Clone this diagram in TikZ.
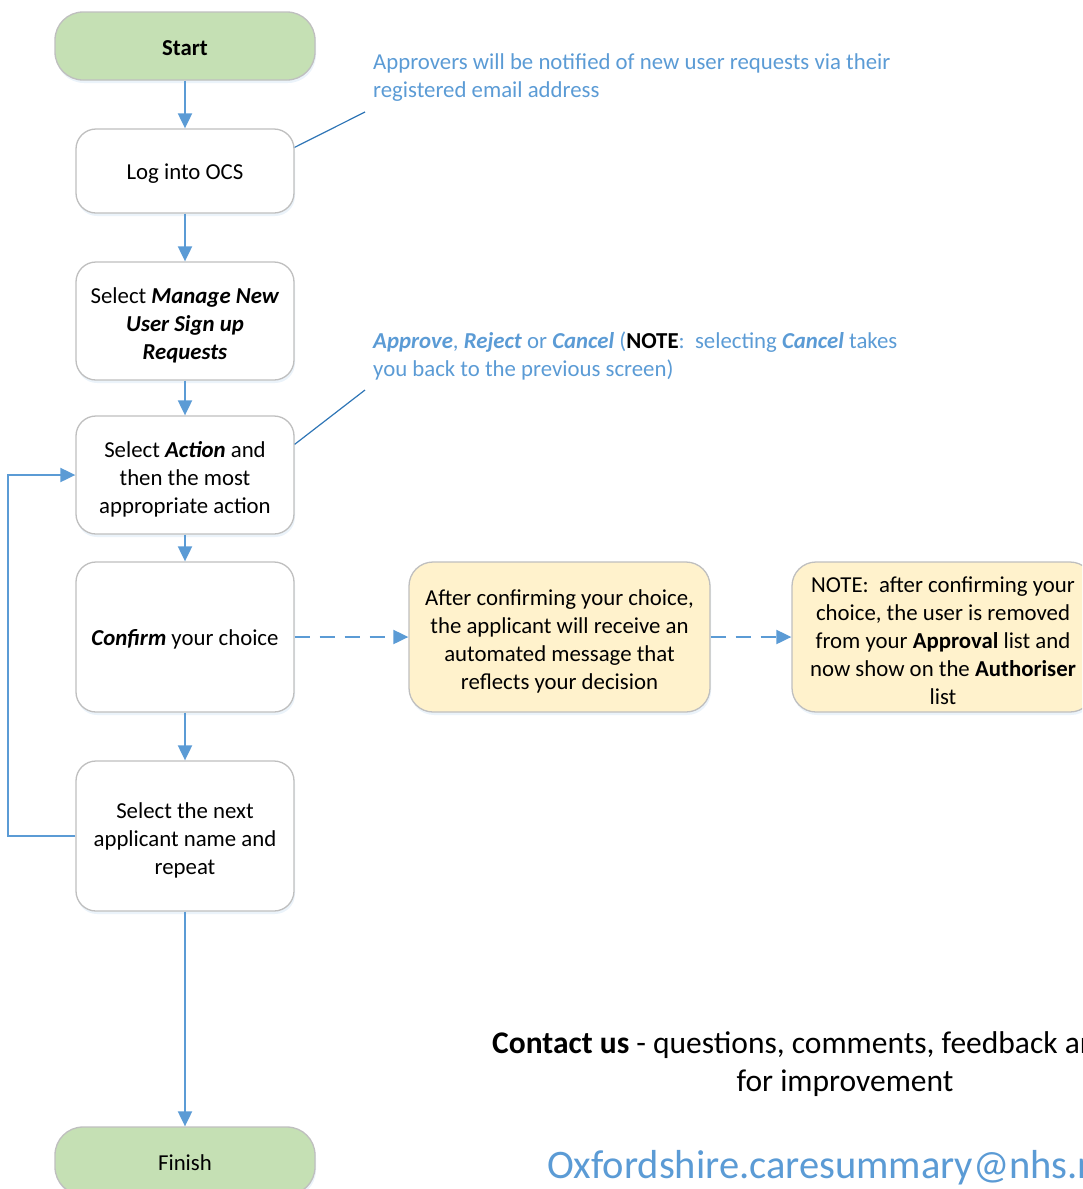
\documentclass[tikz,border=0pt]{standalone}
\usepackage{fontspec}
\setmainfont{Carlito}
\usetikzlibrary{arrows.meta,shadows,calc}
\definecolor{lineblue}{HTML}{5B9BD5}
\definecolor{annoline}{HTML}{2E75B6}
\definecolor{boxgray}{HTML}{BFBFBF}
\definecolor{startgreen}{HTML}{C5E0B4}
\definecolor{noteyellow}{HTML}{FFF2CC}
\newcommand{\toprule}[1]{\rule{0pt}{#1}}
\tikzset{
  basebox/.style={draw=boxgray, line width=1.3pt, align=center, inner sep=2pt,
    font=\fontsize{22.8}{28}\selectfont,
    drop shadow={shadow xshift=1pt, shadow yshift=-3pt, fill=lineblue, opacity=0.12}},
  terminal/.style={basebox, fill=startgreen, rounded corners=28pt, minimum width=260pt, minimum height=68pt},
  procbox/.style={basebox, fill=white, rounded corners=20pt, minimum width=218pt},
  notebox/.style={basebox, fill=noteyellow, rounded corners=24pt, minimum height=150pt},
  flow/.style={draw=lineblue, line width=2pt, -{Triangle[length=15pt,width=14pt]}},
  dashflow/.style={flow, dash pattern=on 15pt off 10pt},
  annotext/.style={text=lineblue, align=left, inner sep=0pt, font=\fontsize{22.8}{28}\selectfont},
  annoconn/.style={draw=annoline, line width=1.2pt}
}
\begin{document}
\begin{tikzpicture}[x=1pt,y=-1pt]
\useasboundingbox (0,0) rectangle (1082,1189);
\clip (0,0) rectangle (1082,1189);

\node[terminal] (start) at (185,46) {\toprule{19pt}\textbf{Start}};
\node[procbox, minimum height=84pt] (log) at (185,171) {\toprule{20pt}Log into OCS};
\node[procbox, minimum height=118pt] (manage) at (185,321) {\toprule{24pt}Select \textbf{\textit{Manage New}}\\\textbf{\textit{User Sign up}}\\\textbf{\textit{Requests}}};
\node[procbox, minimum height=118pt] (action) at (185,475) {\toprule{24pt}Select \textbf{\textit{Action}} and\\then the most\\appropriate action};
\node[procbox, minimum height=150pt] (confirm) at (185,637) {\toprule{20pt}\textbf{\textit{Confirm}} your choice};
\node[procbox, minimum height=150pt] (next) at (185,836) {\toprule{24pt}Select the next\\applicant name and\\repeat};
\node[terminal] (finish) at (185,1161) {\toprule{19pt}Finish};

\node[notebox, minimum width=301pt] (msg) at (559.5,637) {\toprule{24pt}After confirming your choice,\\the applicant will receive an\\automated message that\\reflects your decision};
\node[notebox, minimum width=302pt] (note) at (943,637) {\toprule{24pt}NOTE:\ \ after confirming your\\choice, the user is removed\\from your \textbf{Approval} list and\\now show on the \textbf{Authoriser}\\list};

\node[annotext, anchor=west] (anno1) at (373,78) {Approvers will be notified of new user requests via their\\registered email address};
\node[annotext, anchor=west] (anno2) at (373,355.5) {\textbf{\textit{Approve}}, \textbf{\textit{Reject}} or \textbf{\textit{Cancel}} (\textcolor{black}{\textbf{NOTE}}:\ \ selecting \textbf{\textit{Cancel}} takes\\you back to the previous screen)};

\coordinate (a1s) at ($(log.north east)+(0,19)$);
\coordinate (a1e) at (365,112);
\coordinate (a2s) at ($(action.north east)+(0,29)$);
\coordinate (a2e) at (365,390);
\draw[annoconn] (a1s) -- (a1e);
\draw[annoconn] (a2s) -- (a2e);

\draw[flow] (start) -- (log);
\draw[flow] (log) -- (manage);
\draw[flow] (manage) -- (action);
\draw[flow] (action) -- (confirm);
\draw[flow] (confirm) -- (next);
\draw[flow] (next) -- (finish);
\draw[flow] (next.west) -- ++(-67,0) |- (action.west);
\draw[dashflow] (confirm) -- (msg);
\draw[dashflow] (msg) -- (note);

\node[anchor=base west, inner sep=0pt, font=\fontsize{31.5}{38}\selectfont] (contact) at (492,1053) {\textbf{Contact us} - questions, comments, feedback and suggestions};
\node[anchor=base, inner sep=0pt, font=\fontsize{31.5}{38}\selectfont] (improve) at (845,1091) {for improvement};
\node[anchor=base west, inner sep=0pt, text=lineblue, font=\fontsize{40.5}{48}\selectfont] (email) at (547,1178) {Oxfordshire.caresummary@nhs.net};
\end{tikzpicture}
\end{document}
